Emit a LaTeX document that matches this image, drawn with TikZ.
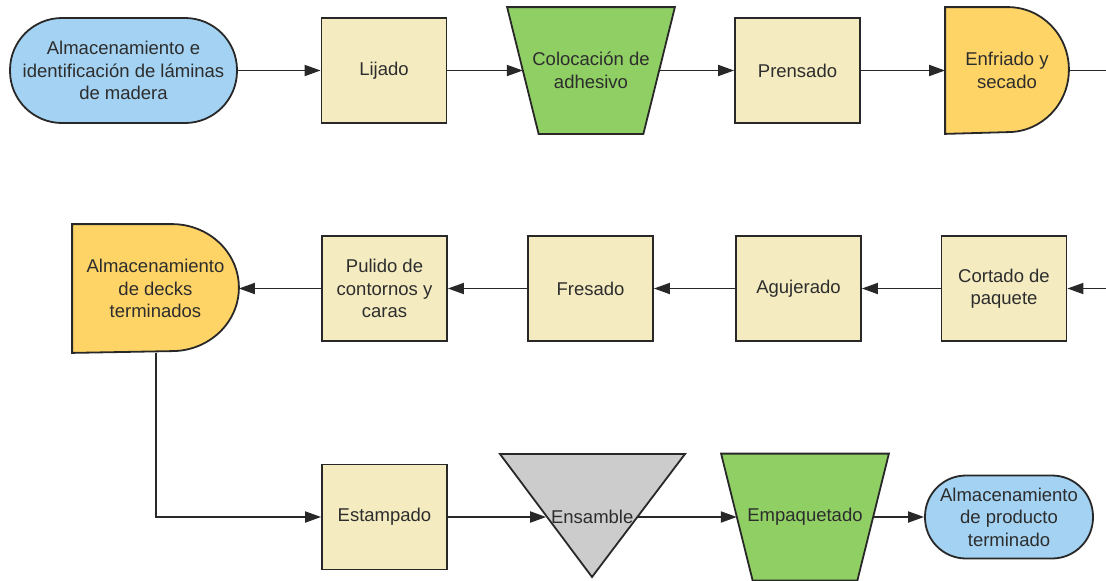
\documentclass[tikz,border=0pt]{standalone}
\usepackage{fontspec}
\setmainfont{Liberation Sans}
\usetikzlibrary{arrows.meta,backgrounds}

\definecolor{skyfill}{RGB}{163,210,242}
\definecolor{sandfill}{RGB}{244,235,192}
\definecolor{leaffill}{RGB}{143,207,100}
\definecolor{sunfill}{RGB}{255,212,102}
\definecolor{greyfill}{RGB}{204,204,204}
\definecolor{edge}{RGB}{40,40,40}
\definecolor{ink}{RGB}{45,45,45}

\begin{document}
\begin{tikzpicture}[x=1pt, y=1pt,
    base/.style={font=\fontsize{18.5}{22.5}\selectfont, text=ink, align=center, draw=edge, line width=1.8pt},
    terminal/.style={base, fill=skyfill},
    process/.style={base, fill=sandfill, minimum width=125pt, minimum height=105pt},
    manual/.style={base, draw=none, minimum width=134.5pt, minimum height=125pt},
    delaybox/.style={base, draw=none},
    mergetext/.style={base, draw=none, inner sep=0pt, minimum width=90.3pt, minimum height=20pt},
    outline/.style={draw=edge, line width=1.8pt},
    line/.style={draw=edge, line width=1.8pt},
    flow/.style={line, -{Triangle[length=16pt,width=11pt]}}]
    \useasboundingbox (0,0) rectangle (1106,-581);

    % first row
    \node[terminal, rounded corners=52pt, minimum width=227pt, minimum height=105pt] (store) at (123.5,-70.5) {Almacenamiento e\\identificación de láminas\\de madera};
    \node[process] (sand) at (384,-70.5) {Lijado};
    \node[manual] (glue) at (591,-70.5) {Colocación de\\adhesivo};
    \node[process] (press) at (797.5,-70.5) {Prensado};
    \node[delaybox, minimum width=122pt, minimum height=125pt] (cool) at (1007,-70.5) {Enfriado y\\secado};
    \coordinate (exit1) at (1106,-70.5);

    % second row
    \coordinate (entry2) at (1106,-288.5);
    \node[process] (cut) at (1004,-288.5) {Cortado de\\paquete};
    \node[process] (drill) at (798.5,-288.5) {Agujerado};
    \node[process] (mill) at (590.5,-288.5) {Fresado};
    \node[process] (polish) at (384.5,-288.5) {Pulido de\\contornos y\\caras};
    \node[delaybox, minimum width=165pt, minimum height=127pt] (decks) at (155.5,-288.5) {Almacenamiento\\de decks\\terminados};

    % third row
    \node[process] (stamp) at (384.5,-517) {Estampado};
    \node[mergetext] (join) at (592.25,-517) {Ensamble};
    \node[manual] (pack) at (805,-517) {Empaquetado};
    \node[terminal, rounded corners=41pt, minimum width=168pt, minimum height=83pt] (final) at (1009,-517) {Almacenamiento\\de producto\\terminado};

    \begin{scope}[on background layer]
        \draw[outline, fill=leaffill] ([xshift=-15.75pt]glue.north west) -- ([xshift=15.75pt]glue.north east) -- ([xshift=-15.75pt]glue.south east) -- ([xshift=15.75pt]glue.south west) -- cycle;
        \draw[outline, fill=leaffill] ([xshift=-15.75pt]pack.north west) -- ([xshift=15.75pt]pack.north east) -- ([xshift=-15.75pt]pack.south east) -- ([xshift=15.75pt]pack.south west) -- cycle;
        \draw[outline, fill=sunfill] (cool.south west) -- (cool.north west) -- ([xshift=-61pt]cool.north east) arc[start angle=90, end angle=-90, x radius=61pt, y radius=62.5pt] -- cycle;
        \draw[outline, fill=sunfill] (decks.south west) -- (decks.north west) -- ([xshift=-67pt]decks.north east) arc[start angle=90, end angle=-90, x radius=67pt, y radius=63.5pt] -- cycle;
        \draw[outline, fill=greyfill] ([shift={(-92.25,63)}]join.center) -- ([shift={(92.75,63)}]join.center) -- ([shift={(-0.25,-60)}]join.center) -- cycle;
    \end{scope}

    \draw[flow] (store) -- (sand);
    \draw[flow] (sand) -- (glue);
    \draw[flow] (glue) -- (press);
    \draw[flow] (press) -- (cool);
    \draw[line] (cool) -- (exit1);

    \draw[flow] (entry2) -- (cut);
    \draw[flow] (cut) -- (drill);
    \draw[flow] (drill) -- (mill);
    \draw[flow] (mill) -- (polish);
    \draw[flow] (polish) -- (decks);

    \draw[flow] ([xshift=84pt]decks.south west) |- (stamp);
    \draw[flow] (stamp) -- (join);
    \draw[flow] (join) -- (pack);
    \draw[flow] (pack) -- (final);
\end{tikzpicture}
\end{document}
